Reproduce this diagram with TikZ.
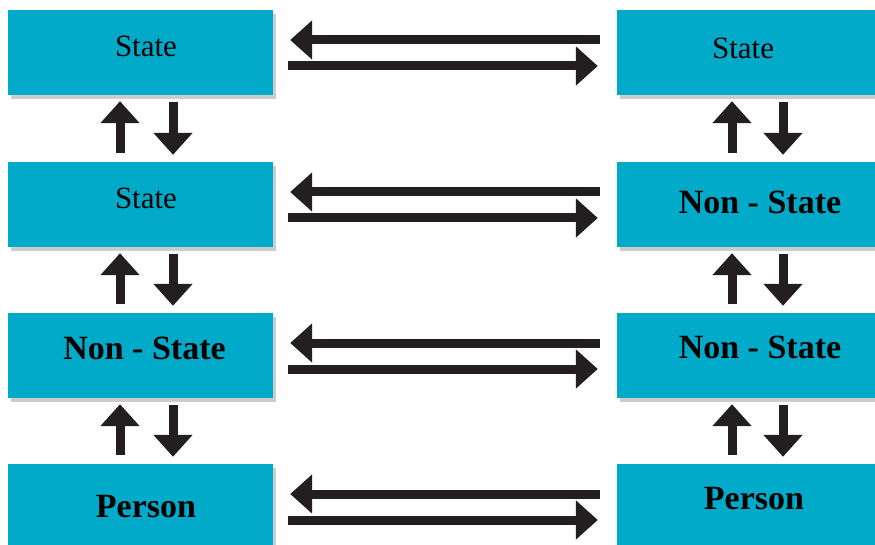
\documentclass[tikz,border=0pt]{standalone}
\usepackage{fontspec}
\setmainfont{Liberation Serif}
\usetikzlibrary{arrows.meta,calc,shadows}
\definecolor{boxblue}{RGB}{0,170,200}
\definecolor{arrowblack}{RGB}{35,31,32}

\tikzset{
  levelbox/.style={fill=boxblue, minimum width=265pt, minimum height=85pt, inner sep=0pt,
    drop shadow={opacity=0.4, shadow xshift=3pt, shadow yshift=-4pt},
    font=\fontsize{31}{36}\selectfont},
  strong/.style={font=\fontsize{34}{40}\selectfont\bfseries},
  raised/.style={text depth=#1},
  raised/.default=12pt,
  nudge/.style={execute at begin node={\hspace*{#1}}},
  fatarrow/.style={draw=arrowblack, line width=9pt, -{Triangle[width=38pt,length=22pt]}},
}

\begin{document}
\begin{tikzpicture}[x=1pt,y=-1pt]

\useasboundingbox (0,0) rectangle (875,545);
\clip (0,0) rectangle (875,545);

% left column
\node[levelbox, raised, nudge=11pt] (l1) at (140.5,52.5) {State};
\node[levelbox, raised, nudge=11pt] (l2) at (140.5,204.5) {State};
\node[levelbox, strong, raised=14pt, nudge=8pt] (l3) at (140.5,355.5) {Non - State};
\node[levelbox, strong, nudge=11pt] (l4) at (140.5,506.5) {Person};

% right column
\node[levelbox, raised=8pt, nudge=-13pt] (r1) at (749.5,52.5) {State};
\node[levelbox, strong, raised=5pt, nudge=21pt] (r2) at (749.5,204.5) {Non - State};
\node[levelbox, strong, raised=16pt, nudge=21pt] (r3) at (749.5,355.5) {Non - State};
\node[levelbox, strong, raised=16pt, nudge=9pt] (r4) at (749.5,506.5) {Person};

% arrows between the columns
\foreach \row in {1,2,3,4} {
  \draw[fatarrow] ($(r\row.west)+(-17,-12.5)$) -- ($(l\row.east)+(17,-12.5)$);
  \draw[fatarrow] ($(l\row.east)+(15,13.5)$) -- ($(r\row.west)+(-19,13.5)$);
}

% arrows down each column
\foreach \upper/\lower in {1/2,2/3,3/4} {
  \draw[fatarrow] ($(l\lower.north)+(-20.5,-9)$) -- ($(l\upper.south)+(-20.5,6)$);
  \draw[fatarrow] ($(l\upper.south)+(32.5,7)$) -- ($(l\lower.north)+(32.5,-7)$);
  \draw[fatarrow] ($(r\lower.north)+(-17.5,-9)$) -- ($(r\upper.south)+(-17.5,6)$);
  \draw[fatarrow] ($(r\upper.south)+(33.5,7)$) -- ($(r\lower.north)+(33.5,-7)$);
}

\end{tikzpicture}
\end{document}
